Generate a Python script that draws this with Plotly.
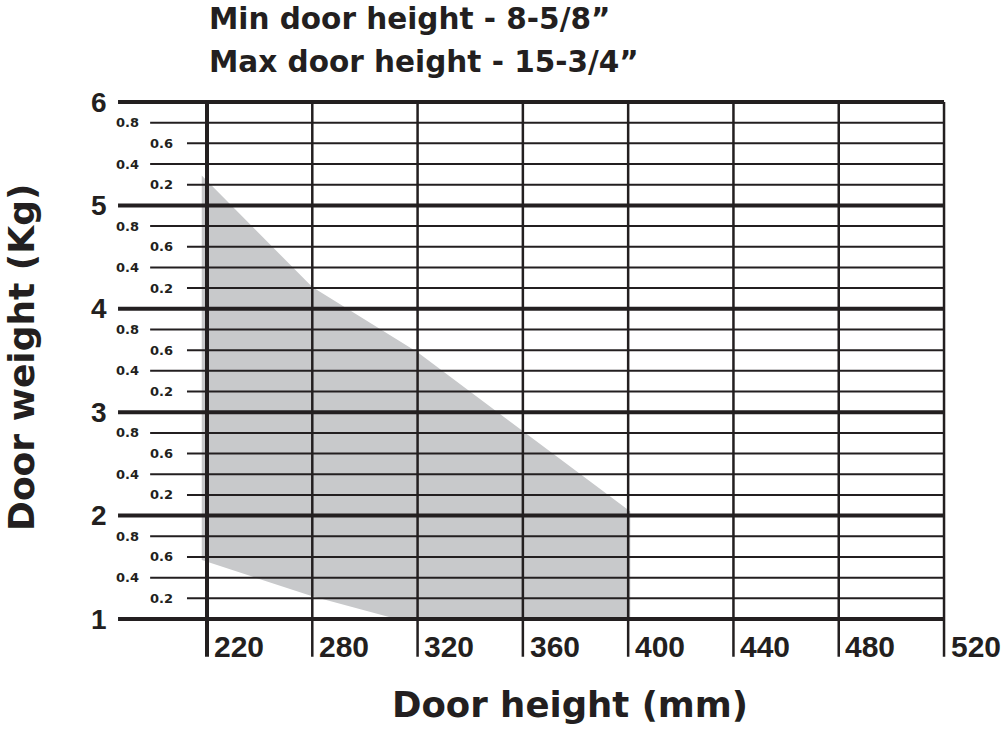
import plotly.graph_objects as go

# door height categories (x axis), door weight in kg (y axis)
x_labels = ["220", "280", "320", "360", "400", "440", "480", "520"]
major_y = [1, 2, 3, 4, 5, 6]
minor_long = [0.8, 0.4]    # labels further left
minor_short = [0.6, 0.2]

# usable range envelope (x = index into x_labels)
upper_x = [-0.05, 1, 2, 4.02]
upper_y = [5.29, 4.21, 3.58, 2.04]
lower_x = [4.02, 2, 1.8, 1, -0.05]
lower_y = [0.98, 0.98, 1.0, 1.22, 1.57]

INK = "#231f20"
FILL = "#c8c9cb"
x_pos = list(range(len(x_labels)))
x_end = x_pos[-1]

fig = go.Figure()

# shaded area
fig.add_trace(go.Scatter(x=upper_x + lower_x, y=upper_y + lower_y, fill="toself",
                         fillcolor=FILL, mode="none", hoverinfo="skip"))


def hlines(levels, x0):
    xs, ys = [], []
    for v in levels:
        xs += [x0, x_end, None]
        ys += [v, v, None]
    return xs, ys


# minor horizontal lines
minor_long_levels = [m + f for m in major_y[:-1] for f in minor_long]
minor_short_levels = [m + f for m in major_y[:-1] for f in minor_short]
for levels, x0 in [(minor_long_levels, -0.54), (minor_short_levels, -0.19)]:
    xs, ys = hlines(levels, x0)
    fig.add_trace(go.Scatter(x=xs, y=ys, mode="lines", line=dict(color=INK, width=2),
                             hoverinfo="skip"))

# vertical lines
vx, vy = [], []
for p in x_pos[1:]:
    vx += [p, p, None]
    vy += [0.635, major_y[-1], None]
fig.add_trace(go.Scatter(x=vx, y=vy, mode="lines", line=dict(color=INK, width=2.5),
                         hoverinfo="skip"))
fig.add_trace(go.Scatter(x=[0, 0], y=[0.635, major_y[-1]], mode="lines",
                         line=dict(color=INK, width=4), hoverinfo="skip"))

# major horizontal lines
xs, ys = hlines(major_y, -0.845)
fig.add_trace(go.Scatter(x=xs, y=ys, mode="lines", line=dict(color=INK, width=4),
                         hoverinfo="skip"))

ann = []
for m in major_y:
    ann.append(dict(x=-0.93, y=m, text=str(m), xanchor="right", yanchor="middle",
                    showarrow=False,
                    font=dict(family="Liberation Sans", size=28, weight="bold", color=INK)))
for m in major_y[:-1]:
    for f in minor_long + minor_short:
        xr = -0.63 if f in minor_long else -0.305
        ann.append(dict(x=xr, y=m + f, text=f"{f:.1f}", xanchor="right", yanchor="middle",
                        showarrow=False,
                        font=dict(family="DejaVu Sans", size=13, weight="bold", color=INK)))
for p, lab in zip(x_pos, x_labels):
    ann.append(dict(x=p + 0.045, y=0.73, text=lab, xanchor="left", yanchor="middle",
                    showarrow=False,
                    font=dict(family="Liberation Sans", size=30, weight="bold", color=INK)))

# titles
ann.append(dict(x=207 / 1005, y=1 - 19.5 / 730, xref="paper", yref="paper",
                text="Min door height - 8-5/8”", xanchor="left", yanchor="middle",
                showarrow=False,
                font=dict(family="DejaVu Sans", size=29.5, weight="bold", color=INK)))
ann.append(dict(x=207 / 1005, y=1 - 62 / 730, xref="paper", yref="paper",
                text="Max door height - 15-3/4”", xanchor="left", yanchor="middle",
                showarrow=False,
                font=dict(family="DejaVu Sans", size=29.5, weight="bold", color=INK)))
ann.append(dict(x=570 / 1005, y=1 - 704 / 730, xref="paper", yref="paper",
                text="Door height (mm)", xanchor="center", yanchor="middle",
                showarrow=False,
                font=dict(family="DejaVu Sans", size=35.5, weight="bold", color=INK)))
ann.append(dict(x=21 / 1005, y=1 - 358 / 730, xref="paper", yref="paper",
                text="Door weight (Kg)", xanchor="center", yanchor="middle", textangle=-90,
                showarrow=False,
                font=dict(family="DejaVu Sans", size=36, weight="bold", color=INK)))

fig.update_layout(
    width=1005, height=730,
    margin=dict(l=0, r=0, t=0, b=0),
    paper_bgcolor="white", plot_bgcolor="white",
    showlegend=False,
    annotations=ann,
    xaxis=dict(range=[-207 / 105.29, (1005 - 207) / 105.29], visible=False, fixedrange=True),
    yaxis=dict(range=[1 - 111 / 103.4, 1 + 619 / 103.4], visible=False, fixedrange=True),
)
fig.write_html("out.html", config={"displayModeBar": False},
               post_script="document.body.style.margin = '0';")
